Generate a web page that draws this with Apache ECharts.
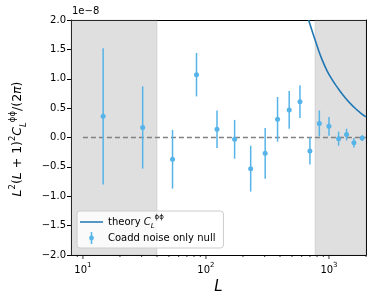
<!DOCTYPE html>
<html><head><meta charset="utf-8">
<script src="https://cdn.jsdelivr.net/npm/echarts@6/dist/echarts.min.js"></script>
<style>html,body{margin:0;padding:0;background:#fff}#c{width:373px;height:301px}</style>
</head><body><div id="c"></div>
<script>
// values in units of 1e-8
const binL   = [14.6, 30.6, 53.5, 83.8, 123, 171, 231, 303, 382, 475, 581, 700, 835, 1000, 1198, 1390, 1595, 1863];
const binVal = [0.36, 0.17, -0.37, 1.07, 0.14, -0.03, -0.53, -0.27, 0.31, 0.47, 0.61, -0.23, 0.24, 0.19, -0.02, 0.05, -0.09, -0.01];
const binErr = [1.16, 0.70, 0.50, 0.37, 0.32, 0.33, 0.39, 0.43, 0.38, 0.32, 0.28, 0.23, 0.22, 0.16, 0.12, 0.10, 0.08, 0.05];
const theoryL   = [683, 809, 877, 963, 1058, 1191, 1376, 1608, 1800, 2000];
const theoryVal = [2.0, 1.53, 1.33, 1.14, 0.99, 0.83, 0.66, 0.51, 0.42, 0.35];
const maskLow  = [8, 40];
const maskHigh = [770, 2000];
const zeroLine = [10, 2000];
const majorTicksX = [10, 100, 1000];
const minorTicksX = [9, 20, 30, 40, 50, 60, 70, 80, 90, 200, 300, 400, 500, 600, 700, 800, 900, 2000];
const xRange = [8, 2000];
const yRange = [-2, 2];

const FONT = 'DejaVu Sans';
const ERR_C = '#56B4E9';
const TH_C = '#1f77b4';

const chart = echarts.init(document.getElementById('c'), null, {renderer: 'canvas'});
const supRich = {
  b: {fontSize: 10, fontFamily: FONT, color: '#000', lineHeight: 16},
  s: {fontSize: 7, fontFamily: FONT, color: '#000', verticalAlign: 'top', lineHeight: 7}
};
const tickData = majorTicksX.map(v => [v, 1]).concat(minorTicksX.map(v => [v, 0]));

chart.setOption({
  animation: false,
  grid: {left: 71, right: 7, top: 20, bottom: 46, containLabel: false, outerBoundsMode: 'none'},
  xAxis: [{
    type: 'log', min: xRange[0], max: xRange[1], logBase: 10,
    axisLine: {show: true, onZero: false, lineStyle: {color: '#000', width: 1}},
    axisTick: {show: false},
    splitLine: {show: false},
    axisLabel: {
      margin: 7,
      formatter: v => {
        const e = Math.log10(v);
        if (Math.abs(e - Math.round(e)) < 1e-6) return '{b|10}{s|' + Math.round(e) + '}';
        return '';
      },
      rich: supRich
    },
    name: 'L', nameLocation: 'middle', nameGap: 22,
    nameTextStyle: {fontSize: 15, fontStyle: 'italic', fontFamily: FONT, color: '#000'}
  }, {
    type: 'value', position: 'top', min: 0, max: 1,
    axisLine: {show: true, onZero: false, lineStyle: {color: '#000', width: 1}},
    axisTick: {show: false}, axisLabel: {show: false}, splitLine: {show: false}
  }],
  yAxis: [{
    type: 'value', min: yRange[0], max: yRange[1], interval: 0.5,
    axisLine: {show: true, onZero: false, lineStyle: {color: '#000', width: 1}},
    axisTick: {show: true, inside: false, length: 4, lineStyle: {color: '#000'}},
    splitLine: {show: false},
    axisLabel: {
      margin: 5, fontSize: 10, fontFamily: FONT, color: '#000',
      formatter: v => (v < 0 ? '\u2212' : '') + Math.abs(v).toFixed(1)
    }
  }, {
    type: 'value', position: 'right', min: 0, max: 1,
    axisLine: {show: true, onZero: false, lineStyle: {color: '#000', width: 1}},
    axisTick: {show: false}, axisLabel: {show: false}, splitLine: {show: false}
  }],
  legend: {
    orient: 'vertical', left: 77, top: 211,
    padding: [3, 8, 2, 3], itemGap: 0, itemWidth: 23, itemHeight: 12,
    backgroundColor: 'rgba(255,255,255,0.85)', borderColor: '#cccccc', borderWidth: 1, borderRadius: 3,
    data: [
      {name: 'theory', icon: 'path://M0,0h40v2.6h-40z', itemStyle: {color: TH_C, opacity: 1}},
      {name: 'Coadd noise only null',
       icon: 'path://M4.3,1h1.4v11h-1.4z M2.8,6.5a2.2,2.2 0 1,1 4.4,0a2.2,2.2 0 1,1 -4.4,0z',
       itemStyle: {color: ERR_C, borderWidth: 0, opacity: 1}}
    ],
    selectedMode: false,
    formatter: n => n === 'theory' ? 'theory {c|C}{sub|L}{sup|\u03d5\u03d5}' : n,
    textStyle: {
      fontSize: 10, fontFamily: FONT, color: '#000', lineHeight: 16,
      rich: {
        c: {fontSize: 10, fontStyle: 'italic', fontFamily: FONT, color: '#000', lineHeight: 16},
        sup: {fontSize: 7, fontFamily: FONT, color: '#000', verticalAlign: 'top', lineHeight: 7},
        sub: {fontSize: 7, fontStyle: 'italic', fontFamily: FONT, color: '#000', verticalAlign: 'bottom', lineHeight: 7}
      }
    }
  },
  graphic: [{
    type: 'text', left: 72, top: 6,
    style: {text: '1e\u22128', fontSize: 10, fontFamily: FONT, fill: '#000'}
  }, {
    type: 'text', x: 18, y: 139, rotation: Math.PI / 2,
    style: {
      text: '{i|L}{sup|2}({i|L} + 1){sup|2}{i|C}{sub|L}{sup|\u03d5\u03d5}/(2{i|\u03c0})',
      align: 'center', verticalAlign: 'middle',
      fontSize: 12.5, fontFamily: FONT, fill: '#000', lineHeight: 20,
      rich: {
        i: {fontSize: 12.5, fontStyle: 'italic', fontFamily: FONT, fill: '#000', lineHeight: 20},
        sup: {fontSize: 8.5, fontFamily: FONT, fill: '#000', verticalAlign: 'top', lineHeight: 9},
        sub: {fontSize: 8.5, fontStyle: 'italic', fontFamily: FONT, fill: '#000', verticalAlign: 'bottom', lineHeight: 9}
      }
    }
  }],
  series: [{
    name: 'zero', type: 'line', z: 2,
    data: zeroLine.map(v => [v, 0]),
    symbol: 'none',
    lineStyle: {color: '#808080', width: 1.5, type: [5, 3]},
    markArea: {
      silent: true,
      itemStyle: {color: 'rgba(128,128,128,0.25)', borderColor: 'rgba(128,128,128,0.2)', borderWidth: 1},
      data: [
        [{xAxis: maskLow[0]}, {xAxis: maskLow[1]}],
        [{xAxis: maskHigh[0]}, {xAxis: maskHigh[1]}]
      ]
    }
  }, {
    name: 'theory', type: 'line', z: 4,
    data: theoryL.map((v, i) => [v, theoryVal[i]]),
    symbol: 'none', smooth: true,
    lineStyle: {color: TH_C, width: 1.6},
    itemStyle: {color: TH_C}
  }, {
    name: 'Coadd noise only null', type: 'scatter', z: 6,
    data: binL.map((v, i) => [v, binVal[i]]),
    symbol: 'circle', symbolSize: 5,
    itemStyle: {color: ERR_C, opacity: 1}
  }, {
    name: 'Coadd noise only null', type: 'custom', z: 5,
    data: binL.map((v, i) => [v, binVal[i], binErr[i]]),
    itemStyle: {color: ERR_C},
    renderItem: (params, api) => {
      const x = api.value(0), y = api.value(1), e = api.value(2);
      const a = api.coord([x, y + e]), b = api.coord([x, y - e]);
      return {type: 'line', shape: {x1: a[0], y1: a[1], x2: b[0], y2: b[1]},
              style: {stroke: ERR_C, lineWidth: 1.5}};
    }
  }, {
    name: 'ticks', type: 'custom', z: 7, clip: false, silent: true,
    data: tickData,
    renderItem: (params, api) => {
      const p = api.coord([api.value(0), yRange[0]]);
      const len = api.value(1) ? 4 : 2;
      return {type: 'line', shape: {x1: p[0], y1: p[1], x2: p[0], y2: p[1] + len},
              style: {stroke: '#000', lineWidth: 0.8}};
    }
  }]
});
</script>
</body></html>
